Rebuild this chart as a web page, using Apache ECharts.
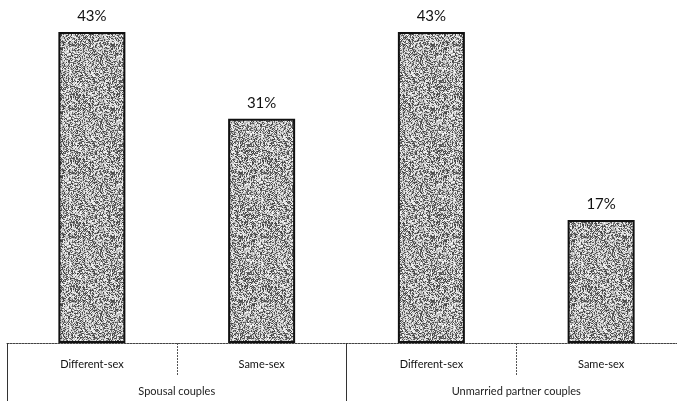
<!DOCTYPE html>
<html>
<head>
<meta charset="utf-8">
<script src="https://cdn.jsdelivr.net/npm/echarts@6/dist/echarts.min.js"></script>
<style>
  html, body { margin: 0; padding: 0; background: #fff; }
  #chart { width: 677px; height: 401px; }
</style>
</head>
<body>
<div id="chart"></div>
<script>
// Share of couples, by couple type and sex composition
const subCategories = ['Different-sex', 'Same-sex', 'Different-sex', 'Same-sex'];
const groupCategories = ['Spousal couples', 'Unmarried partner couples'];
const shares = [43, 31, 43, 17];

// Stippled grey fill for the bars (deterministic hash noise)
function stippleTexture(size) {
  const c = document.createElement('canvas');
  c.width = size; c.height = size;
  const ctx = c.getContext('2d');
  const img = ctx.createImageData(size, size);
  for (let y = 0; y < size; y++) {
    for (let x = 0; x < size; x++) {
      let h = (x * 374761393 + y * 668265263) | 0;
      h = Math.imul(h ^ (h >>> 13), 1274126177);
      h = (h ^ (h >>> 16)) >>> 0;
      const t = (h & 255) / 255;
      const v = t < 0.4 ? 60 + t * 150 : 170 + (t - 0.4) * 140;
      const i = (y * size + x) * 4;
      img.data[i] = img.data[i + 1] = img.data[i + 2] = Math.min(255, v);
      img.data[i + 3] = 255;
    }
  }
  ctx.putImageData(img, 0, 0);
  return c;
}

const chart = echarts.init(document.getElementById('chart'), null, { renderer: 'canvas' });
const fontFamily = 'Lato, "Open Sans", sans-serif';

chart.setOption({
  animation: false,
  backgroundColor: '#ffffff',
  grid: { left: 7, width: 679, top: 32, bottom: 58, containLabel: false, outerBoundsMode: 'none' },
  xAxis: [
    {
      type: 'category',
      data: subCategories,
      position: 'bottom',
      axisLine: { show: true, lineStyle: { color: '#444', width: 1, type: [2, 1] } },
      axisTick: { show: true, length: 32, lineStyle: { color: '#555', width: 1, type: [2, 1] } },
      axisLabel: { margin: 16, fontSize: 11, color: '#111', fontFamily: fontFamily }
    },
    {
      type: 'category',
      data: groupCategories,
      position: 'bottom',
      axisLine: { show: false },
      axisTick: { show: true, length: 58, lineStyle: { color: '#333', width: 1 } },
      axisLabel: { margin: 43, fontSize: 11, color: '#222', fontFamily: fontFamily }
    }
  ],
  yAxis: {
    type: 'value',
    min: 0,
    max: 43,
    show: false,
    splitLine: { show: false }
  },
  series: [{
    type: 'bar',
    xAxisIndex: 0,
    data: shares,
    barWidth: 67,
    itemStyle: {
      color: { image: stippleTexture(64), repeat: 'repeat' },
      borderColor: '#111',
      borderWidth: 2
    },
    label: {
      show: true,
      position: 'top',
      distance: 8,
      formatter: p => p.value + '%',
      fontSize: 15,
      fontWeight: 'normal',
      color: '#111',
      fontFamily: fontFamily
    }
  }]
});
</script>
</body>
</html>
